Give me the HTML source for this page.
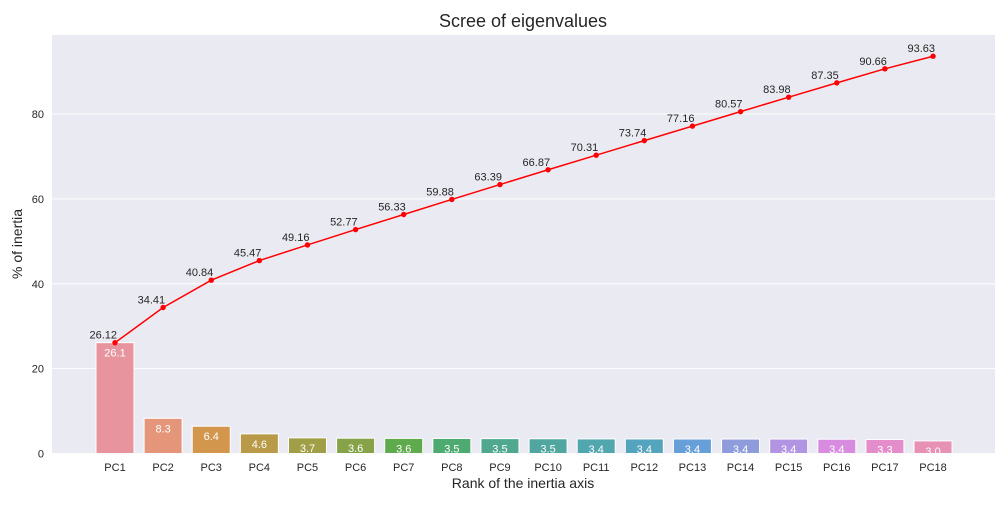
<!DOCTYPE html>
<html><head><meta charset="utf-8"><style>
body{margin:0;background:#fff;font-family:"Liberation Sans","DejaVu Sans",sans-serif;}
svg text{font-family:"Liberation Sans","DejaVu Sans",sans-serif;}
</style></head><body>
<svg id="chart" width="1008" height="504" xmlns="http://www.w3.org/2000/svg">
<rect x="0" y="0" width="1008" height="504" fill="#fff"/>
<text x="523" y="27" font-size="18" text-anchor="middle" fill="#262626">Scree of eigenvalues</text>
<rect x="52" y="35" width="943" height="419" fill="#eaeaf2"/>
<g id="grid"></g><g id="bars"></g><g id="line"></g>
<text x="523" y="488" font-size="14" text-anchor="middle" fill="#262626">Rank of the inertia axis</text>
<text transform="translate(22,244) rotate(-90)" font-size="14" text-anchor="middle" fill="#262626">% of inertia</text>
</svg>
<script>
const categories=["PC1","PC2","PC3","PC4","PC5","PC6","PC7","PC8","PC9","PC10","PC11","PC12","PC13","PC14","PC15","PC16","PC17","PC18"];
const barValues=[26.12,8.29,6.43,4.63,3.69,3.61,3.56,3.55,3.51,3.48,3.44,3.43,3.42,3.41,3.41,3.37,3.31,2.97];
const cumValues=[26.12,34.41,40.84,45.47,49.16,52.77,56.33,59.88,63.39,66.87,70.31,73.74,77.16,80.57,83.98,87.35,90.66,93.63];
const yTicks=[0,20,40,60,80];
const colors=["#e8949f","#e5957a","#d2964c","#b89a48","#a09f48","#86a34a","#5eaa4c","#4faa72","#50a88f","#51a79f","#52a6ae","#55a4bd","#67a0d8","#8e9cdb","#b195e2","#d88ce0","#e38dcb","#e791b5"];
const NS="http://www.w3.org/2000/svg";
const xs=i=>115+i*48.12;
const ys=v=>453.5-v*4.243;
function mk(t,a,p){const e=document.createElementNS(NS,t);for(const k in a)e.setAttribute(k,a[k]);p.appendChild(e);return e;}
const grid=document.getElementById('grid');
yTicks.forEach(t=>{
 const l=mk('line',{x1:52,x2:995,y1:ys(t),y2:ys(t),stroke:'#fff','stroke-width':1},grid);
 
 
 const tx=mk('text',{x:44,y:ys(t)+4,'font-size':11,'text-anchor':'end',fill:'#262626'},grid);
 tx.textContent=t;
 
 
});
const bars=document.getElementById('bars');
categories.forEach((c,i)=>{
 const y=ys(barValues[i]);
 const r=mk('rect',{x:xs(i)-19,y:y,width:38,height:453.5-y,fill:colors[i],stroke:'#fff','stroke-width':1},bars);
 
 
 const v=mk('text',{x:xs(i),y:y+14,'font-size':11,'text-anchor':'middle',fill:'#fff'},bars);
 v.textContent=barValues[i].toFixed(1);
 
 
 const tl=mk('text',{x:xs(i),y:471,'font-size':11,'text-anchor':'middle',fill:'#262626'},bars);
 tl.textContent=c;
 
 
});
const lg=document.getElementById('line');
const pl=mk('polyline',{points:cumValues.map((v,i)=>xs(i)+','+ys(v)).join(' '),fill:'none',stroke:'#ff0000','stroke-width':1.5},lg);


cumValues.forEach((v,i)=>{
 const c=mk('circle',{cx:xs(i),cy:ys(v),r:2.7,fill:'#ff0000'},lg);
 
 
 const t=mk('text',{x:xs(i)+2,y:ys(v)-4,'font-size':11,'text-anchor':'end',fill:'#262626'},lg);
 t.textContent=v.toFixed(2);
 
 
});
</script>
</body></html>
